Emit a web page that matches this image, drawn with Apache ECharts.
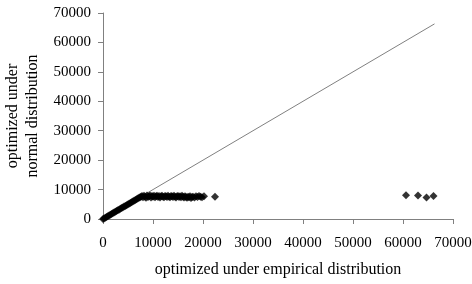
<!DOCTYPE html>
<html>
<head>
<meta charset="utf-8">
<script src="https://cdn.jsdelivr.net/npm/echarts@6/dist/echarts.min.js"></script>
<style>
	html, body { margin: 0; padding: 0; background: #fff; }
	#chart { width: 472px; height: 284px; }
</style>
</head>
<body>
<div id="chart"></div>
<script>
// tick labels
const axisTicks = [0, 10000, 20000, 30000, 40000, 50000, 60000, 70000]

// [empirical, normal] pairs
const lowerBand = [
	[0, 0], [200, 210], [450, 430], [700, 690], [950, 960], [1200, 1180],
	[1450, 1470], [1700, 1690], [1950, 1960], [2200, 2180], [2450, 2470],
	[2700, 2690], [2950, 2970], [3200, 3180], [3450, 3460], [3700, 3710],
	[3950, 3930], [4200, 4220], [4450, 4440], [4700, 4710], [4950, 4930],
	[5200, 5220], [5450, 5440], [5700, 5720], [5950, 5930], [6200, 6210],
	[6450, 6440], [6700, 6720], [6950, 6930], [7200, 7180], [7400, 7420]
]
const plateau = [
	[7600, 7600], [7800, 7800], [8000, 7400], [8200, 7900], [8400, 7600],
	[8600, 7200], [8800, 8000], [9000, 7500], [9200, 7700], [9400, 8000],
	[9600, 7300], [9800, 7800], [10000, 7600], [10200, 7900], [10400, 7400],
	[10600, 7700], [10800, 7900], [11000, 7500], [11200, 7800], [11400, 7300],
	[11600, 7700], [11800, 7900], [12000, 7600], [12200, 7400], [12400, 7800],
	[12600, 7700], [12800, 7500], [13000, 7900], [13200, 7600], [13400, 7400],
	[13600, 7800], [13800, 7700], [14000, 7500], [14200, 7900], [14400, 7600],
	[14600, 7300], [14800, 7700], [15000, 7800], [15200, 7500], [15400, 7700],
	[15600, 7400], [15800, 7900], [16000, 7600], [16200, 7300], [16400, 7700],
	[16600, 7500], [16800, 7200], [17000, 7600], [17200, 7400], [17400, 7700],
	[17600, 7100], [17800, 7500], [18000, 7600], [18300, 7300], [18600, 7700],
	[18900, 7500], [19200, 7800], [19500, 7600], [19800, 7400], [20200, 7700]
]
const outliers = [
	[22400, 7600], [60600, 8100], [63000, 8000], [64700, 7300], [66100, 7800]
]
// y = x reference line
const diagonal = [[0, 0], [66300, 66300]]

const points = lowerBand.concat(plateau, outliers)

const chart = echarts.init(document.getElementById('chart'))

const font = 'Liberation Serif'

const axisCommon = {
	type: 'value',
	min: axisTicks[0],
	max: axisTicks[axisTicks.length - 1],
	interval: 10000,
	nameLocation: 'middle',
	nameTextStyle: {
		color: '#000',
		fontFamily: font,
		fontSize: 16,
		lineHeight: 20
	},
	axisLine: {
		show: true,
		onZero: false,
		lineStyle: { color: '#808080', width: 1 }
	},
	axisTick: {
		show: true,
		inside: false,
		length: 5,
		lineStyle: { color: '#808080' }
	},
	axisLabel: {
		color: '#000',
		fontFamily: font,
		fontSize: 15,
		formatter: v => String(v)
	},
	splitLine: { show: false }
}

const option = {
	animation: false,
	backgroundColor: '#fff',
	grid: {
		left: 103,
		right: 19,
		top: 13,
		bottom: 65,
		containLabel: false,
		outerBoundsMode: 'none'
	},
	xAxis: Object.assign({}, axisCommon, {
		name: 'optimized under empirical distribution',
		nameGap: 41,
		axisLabel: Object.assign({}, axisCommon.axisLabel, { margin: 17 })
	}),
	yAxis: Object.assign({}, axisCommon, {
		name: 'optimized under\nnormal distribution',
		nameGap: 54,
		axisLabel: Object.assign({}, axisCommon.axisLabel, { margin: 12 })
	}),
	series: [
		{
			type: 'line',
			data: diagonal,
			symbol: 'none',
			lineStyle: { color: '#808080', width: 1 },
			z: 1
		},
		{
			type: 'scatter',
			data: points,
			symbol: 'diamond',
			symbolSize: 8,
			itemStyle: { color: '#000' },
			z: 2
		}
	]
}

chart.setOption(option)
</script>
</body>
</html>
